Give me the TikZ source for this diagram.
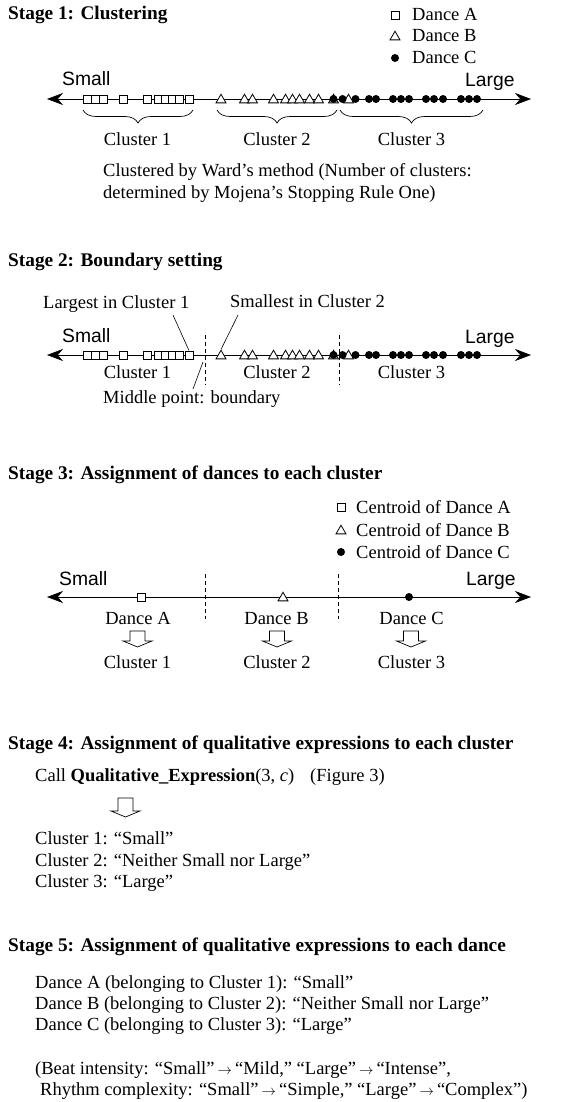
\documentclass[tikz,border=0pt]{standalone}
\usepackage{fontspec}
\setmainfont{Liberation Serif}
\setsansfont{Liberation Sans}
\usetikzlibrary{arrows.meta,decorations.pathreplacing,shapes.geometric}
\newcommand{\rarr}{\,{\fontsize{14}{14}\selectfont$\rightarrow$}\,}
\begin{document}
\begin{tikzpicture}[x=1pt,y=-1pt,
  body/.style={font=\fontsize{18.5}{21.5}\selectfont, inner sep=0, anchor=base west},
  bodyc/.style={font=\fontsize{18.5}{21.5}\selectfont, inner sep=0, anchor=base},
  head/.style={font=\fontsize{19.3}{22}\selectfont\bfseries, inner sep=0, anchor=base west},
  sans/.style={font=\fontsize{19.3}{22}\selectfont\sffamily, inner sep=0, anchor=base west},
  axisline/.style={line width=0.6pt, {Stealth[length=16pt,width=12pt]}-{Stealth[length=16pt,width=12pt]}},
  sq/.style={draw, fill=white, line width=0.8pt, rectangle, minimum size=8pt, inner sep=0},
  tri/.style={draw, fill=white, line width=0.8pt, regular polygon, regular polygon sides=3, minimum size=11.5pt, inner sep=0},
  dot/.style={fill=black, circle, minimum size=8pt, inner sep=0},
  bracestyle/.style={line width=0.7pt, decorate, decoration={brace, mirror, amplitude=13pt}},
  bound/.style={line width=0.7pt, dash pattern=on 4pt off 3pt},
  leader/.style={line width=0.6pt},
  pics/harrow/.style={code={\draw[line width=0.7pt] (-7.5,0) -- (-7.5,#1) -- (-14.5,#1) -- (0,{#1+6}) -- (14.5,#1) -- (7.5,#1) -- (7.5,0) -- cycle;}}
]
\useasboundingbox (0,0) rectangle (569,1102);

% ---------------- Stage 1 ----------------
\node[head] (t1) at (8,20) {Stage 1: Clustering};
\node[sq]  (lgA) at (395,15) {};
\node[body] (lgAt) at (412,21) {Dance A};
\node[tri] (lgB) at (395,37) {};
\node[body] (lgBt) at (412,42) {Dance B};
\node[dot] (lgC) at (395,58) {};
\node[body] (lgCt) at (412,64) {Dance C};

\node[sans] (sm1) at (62,86) {Small};
\node[sans] (lg1) at (465,87) {Large};
\coordinate (ax1L) at (47,99);
\coordinate (ax1R) at (531,99);
\draw[axisline] (ax1L) -- (ax1R);

\foreach \x [count=\i] in {87.5,95.5,103.5,123,147.5,158.5,165.5,172.5,179.5,189}
  \node[sq] (a1-\i) at (\x,99) {};
\foreach \x [count=\i] in {221,244.5,252.5,273.5,285.5,292.5,299.5,309.5,318.5,333.5,348.5}
  \node[tri] (b1-\i) at (\x,100) {};
\foreach \x [count=\i] in {333.5,342.5,355.5,369,376,393,401,409,426,434,443,461,469,477}
  \node[dot] (c1-\i) at (\x,99) {};

\coordinate (br1a) at (83,110);  \coordinate (br1b) at (193,110);
\coordinate (br2a) at (217,110); \coordinate (br2b) at (337,110);
\coordinate (br3a) at (340,110); \coordinate (br3b) at (483,110);
\draw[bracestyle] (br1a) -- (br1b);
\draw[bracestyle] (br2a) -- (br2b);
\draw[bracestyle] (br3a) -- (br3b);
\node[bodyc] (cl11) at (137.5,146) {Cluster 1};
\node[bodyc] (cl12) at (277,146) {Cluster 2};
\node[bodyc] (cl13) at (411.5,146) {Cluster 3};

\node[body] (w1) at (103,177) {Clustered by Ward’s method (Number of clusters:};
\node[body] (w2) at (103,199) {determined by Mojena’s Stopping Rule One)};

% ---------------- Stage 2 ----------------
\node[head] (t2) at (8,266) {Stage 2: Boundary setting};
\node[body] (lgst) at (43,308) {Largest in Cluster 1};
\node[body] (smst) at (230,307) {Smallest in Cluster 2};
\node[sans] (sm2) at (62,342) {Small};
\node[sans] (lg2) at (465,343) {Large};
\coordinate (ax2L) at (47,355);
\coordinate (ax2R) at (531,355);
\draw[axisline] (ax2L) -- (ax2R);

\foreach \x [count=\i] in {87.5,95.5,103.5,123,147.5,158.5,165.5,172.5,179.5,189}
  \node[sq] (a2-\i) at (\x,355) {};
\foreach \x [count=\i] in {221,244.5,252.5,273.5,285.5,292.5,299.5,309.5,318.5,333.5,348.5}
  \node[tri] (b2-\i) at (\x,356) {};
\foreach \x [count=\i] in {333.5,342.5,355.5,369,376,393,401,409,426,434,443,461,469,477}
  \node[dot] (c2-\i) at (\x,355) {};

\coordinate (d21t) at (205,335); \coordinate (d21b) at (205,385);
\coordinate (d22t) at (339,335); \coordinate (d22b) at (339,385);
\draw[bound] (d21t) -- (d21b);
\draw[bound] (d22t) -- (d22b);

\coordinate (ld1) at (173,315);
\coordinate (ld2) at (238,315);
\draw[leader] (ld1) -- (a2-10.north);
\draw[leader] (ld2) -- (b2-1.north);

\node[bodyc] (cl21) at (137.5,378) {Cluster 1};
\node[bodyc] (cl22) at (277,378) {Cluster 2};
\node[bodyc] (cl23) at (411.5,378) {Cluster 3};
\node[body] (mid) at (103,403) {Middle point: boundary};
\coordinate (ld3a) at (203,362);
\coordinate (ld3b) at (193,389);
\draw[leader] (ld3a) -- (ld3b);

% ---------------- Stage 3 ----------------
\node[head] (t3) at (8,479) {Stage 3: Assignment of dances to each cluster};
\node[sq]  (lg3A) at (341,507) {};
\node[body] (lg3At) at (356,513) {Centroid of Dance A};
\node[tri] (lg3B) at (341,531) {};
\node[body] (lg3Bt) at (356,536) {Centroid of Dance B};
\node[dot] (lg3C) at (341,552) {};
\node[body] (lg3Ct) at (356,558) {Centroid of Dance C};

\node[sans] (sm3) at (59,585) {Small};
\node[sans] (lg3) at (466,585) {Large};
\coordinate (ax3L) at (47,597);
\coordinate (ax3R) at (531,597);
\draw[axisline] (ax3L) -- (ax3R);
\node[sq]  (cA) at (141.5,597) {};
\node[tri] (cB) at (283,598) {};
\node[dot] (cC) at (409,597) {};

\coordinate (d31t) at (205,574); \coordinate (d31b) at (205,619);
\coordinate (d32t) at (338,574); \coordinate (d32b) at (338,619);
\draw[bound] (d31t) -- (d31b);
\draw[bound] (d32t) -- (d32b);

\node[bodyc] (dA) at (138,624) {Dance A};
\node[bodyc] (dB) at (276.5,624) {Dance B};
\node[bodyc] (dC) at (411.5,624) {Dance C};
\pic (arA) at (137.5,631) {harrow=10};
\pic (arB) at (277,631) {harrow=10};
\pic (arC) at (411,631) {harrow=10};
\node[bodyc] (cl31) at (137.5,668) {Cluster 1};
\node[bodyc] (cl32) at (277,668) {Cluster 2};
\node[bodyc] (cl33) at (411.5,668) {Cluster 3};

% ---------------- Stage 4 ----------------
\node[head] (t4) at (8,749) {Stage 4: Assignment of qualitative expressions to each cluster};
\node[body] (call) at (35,781) {Call \textbf{Qualitative\_Expression}(3, \textit{c})};
\node[body] (fig) at (310,781) {(Figure 3)};
\pic (ar4) at (125.5,798) {harrow=13};
\node[body] (q1) at (35,844) {Cluster 1: “Small”};
\node[body] (q2) at (35,866) {Cluster 2: “Neither Small nor Large”};
\node[body] (q3) at (35,887) {Cluster 3: “Large”};

% ---------------- Stage 5 ----------------
\node[head] (t5) at (8,951) {Stage 5: Assignment of qualitative expressions to each dance};
\node[body] (e1) at (35,988) {Dance A (belonging to Cluster 1): “Small”};
\node[body] (e2) at (35,1009) {Dance B (belonging to Cluster 2): “Neither Small nor Large”};
\node[body] (e3) at (35,1030) {Dance C (belonging to Cluster 3): “Large”};
\node[body] (n1) at (35,1074) {(Beat intensity: “Small”\rarr“Mild,” “Large”\rarr“Intense”,};
\node[body] (n2) at (40,1095) {Rhythm complexity: “Small”\rarr“Simple,” “Large”\rarr“Complex”)};
\end{tikzpicture}
\end{document}
